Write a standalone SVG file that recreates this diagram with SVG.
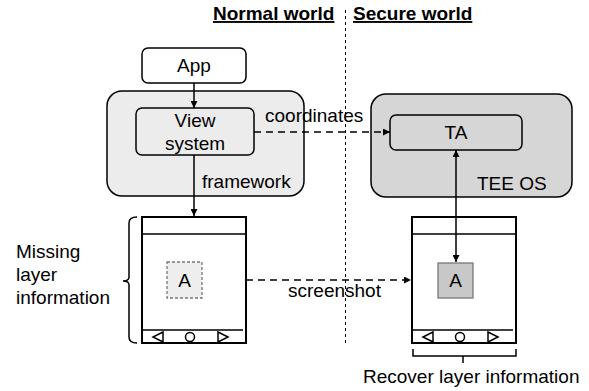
<svg xmlns="http://www.w3.org/2000/svg" width="589" height="391" viewBox="0 0 589 391">
<style>
text{font-family:"Liberation Sans",Arial,sans-serif;font-size:19px;fill:#000}
.hdr{font-weight:bold;text-decoration:underline}
.box{stroke:#000;stroke-width:1.5}
.ph{fill:#fff;stroke:#000;stroke-width:2}
.ln{stroke:#000;stroke-width:1.5;fill:none}
.dash{stroke:#000;stroke-width:1.5;fill:none;stroke-dasharray:7 5}
</style>
<defs>
<marker id="ah" viewBox="0 0 10 10" refX="10" refY="5" markerWidth="7" markerHeight="7" markerUnits="userSpaceOnUse" orient="auto-start-reverse">
<path d="M0,0 L10,5 L0,10 Z" fill="#000"/>
</marker>
</defs>
<g id="divider">
<line x1="345.5" y1="10" x2="345.5" y2="345" stroke="#000" stroke-width="1" stroke-dasharray="3 3"/>
</g>
<g id="headers">
<text class="hdr" x="213" y="20">Normal world</text>
<text class="hdr" x="353" y="20">Secure world</text>
</g>
<g id="framework">
<rect x="107" y="91" width="197" height="105" rx="15" fill="#ececec" class="box"/>
<text x="202" y="188">framework</text>
</g>
<g id="app">
<rect x="142" y="48" width="104" height="35" rx="6" fill="#fff" class="box"/>
<text x="194" y="72" text-anchor="middle">App</text>
</g>
<g id="view-system">
<rect x="136" y="108" width="118" height="47" rx="6" fill="#ececec" class="box"/>
<text x="195" y="127" text-anchor="middle">View</text>
<text x="195" y="150" text-anchor="middle">system</text>
</g>
<g id="tee-os">
<rect x="371" y="94" width="201" height="103" rx="15" fill="#d6d6d6" class="box"/>
<text x="477" y="190">TEE OS</text>
</g>
<g id="ta">
<rect x="390" y="115" width="132" height="35" rx="6" fill="#d6d6d6" class="box"/>
<text x="456" y="139" text-anchor="middle">TA</text>
</g>
<g id="phone-left">
<rect x="142" y="217" width="104" height="126" class="ph"/>
<line x1="142" y1="234" x2="246" y2="234" class="ln" stroke-width="2"/>
<line x1="143" y1="330" x2="243" y2="330" class="ln"/>
<path d="M163,332 L153,337 L163,342 Z" class="ln"/>
<circle cx="190" cy="337" r="4.5" class="ln"/>
<path d="M218,332 L228,337 L218,342 Z" class="ln"/>
<rect x="167" y="262" width="35" height="36" fill="#eeeeee" stroke="#777" stroke-width="1.3" stroke-dasharray="3 2"/>
<text x="184.5" y="287" text-anchor="middle">A</text>
</g>
<g id="phone-right">
<rect x="412" y="217" width="104" height="126" class="ph"/>
<line x1="412" y1="234" x2="516" y2="234" class="ln" stroke-width="2"/>
<line x1="413" y1="330" x2="513" y2="330" class="ln"/>
<path d="M433,332 L423,337 L433,342 Z" class="ln"/>
<circle cx="460" cy="337" r="4.5" class="ln"/>
<path d="M488,332 L498,337 L488,342 Z" class="ln"/>
<rect x="438" y="263" width="35" height="35" fill="#c8c8c8" stroke="#777" stroke-width="1.3"/>
<text x="455.5" y="287" text-anchor="middle">A</text>
</g>
<g id="missing-layer">
<path d="M137,217 Q129,217 129,223 L129,277 Q129,281 123,281 Q129,281 129,285 L129,337 Q129,343 137,343" class="ln"/>
<text x="16" y="258">Missing</text>
<text x="16" y="281">layer</text>
<text x="16" y="304">information</text>
</g>
<g id="recover-layer">
<path d="M413,349 L413,356 L516,356 L516,349 M463,356 L463,363" class="ln"/>
<text x="363" y="383">Recover layer information</text>
</g>
<g id="connectors">
<line x1="194" y1="83" x2="194" y2="108" class="ln" marker-end="url(#ah)"/>
<line x1="194" y1="155" x2="194" y2="216" class="ln" marker-end="url(#ah)"/>
<line x1="254" y1="132" x2="390" y2="132" class="dash" marker-end="url(#ah)"/>
<text x="265" y="122">coordinates</text>
<line x1="456" y1="150" x2="456" y2="262" class="ln" marker-start="url(#ah)" marker-end="url(#ah)"/>
<line x1="246" y1="280" x2="411" y2="280" class="dash" marker-end="url(#ah)"/>
<text x="288" y="297">screenshot</text>
</g>
</svg>
